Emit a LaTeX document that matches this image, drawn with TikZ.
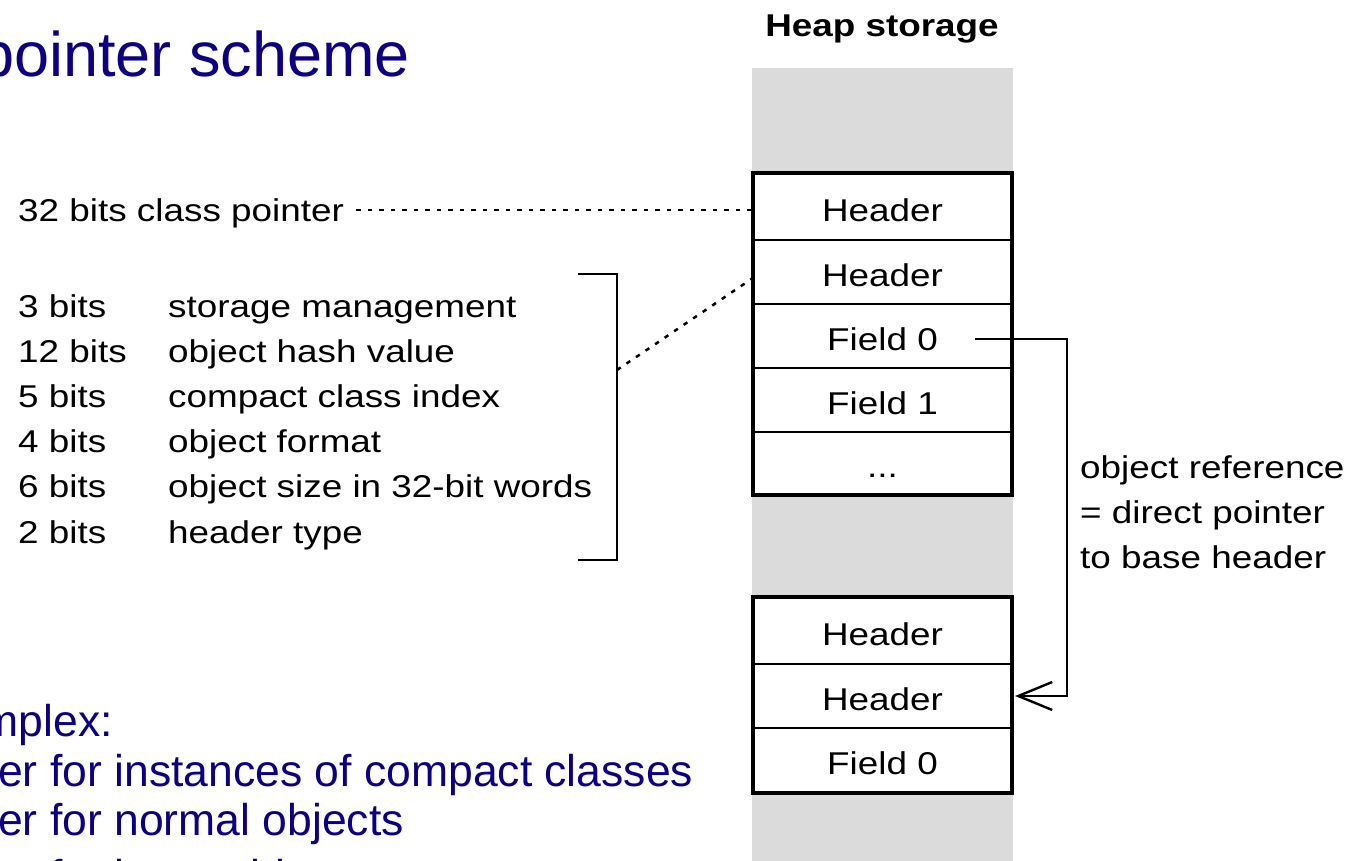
\documentclass[tikz,border=0pt]{standalone}
\usepackage{fontspec}
\setmainfont{Liberation Sans}
\newfontfamily\diagfont[FakeStretch=1.17]{Liberation Sans}
\usetikzlibrary{arrows.meta}
\definecolor{slideblue}{RGB}{12,0,128}
\definecolor{heapgray}{RGB}{219,219,219}

\begin{document}
\begin{tikzpicture}[x=1pt,y=-1pt,
  dtext/.style={font=\diagfont\fontsize{31.5}{36}\selectfont, inner sep=0pt},
  btext/.style={font=\fontsize{44.5}{50}\selectfont, text=slideblue, inner sep=0pt, anchor=base west},
  cell/.style={dtext, draw, fill=white, line width=2.2pt, minimum width=257pt, text height=29pt, text depth=0pt},
  frame/.style={line width=3.5pt},
  dotline/.style={line width=2.5pt, dash pattern=on 4.5pt off 7pt},
  bracket/.style={line width=2.8pt},
  refline/.style={line width=2.4pt},
]
\useasboundingbox (0,0) rectangle (1367,861);

% slide text
\node[btext, anchor=base east, font=\fontsize{63}{70}\selectfont] (title) at (410,77) {pointer scheme};
\node[btext, anchor=base east] (hdr) at (113,736) {complex:};
\node[btext] (h1) at (-2,786) {er for instances of compact classes};
\node[btext] (h2) at (-2,835) {er for normal objects};
\node[btext] (h3) at (-2,891) {er for large objects};

% heap column
\node[dtext, font=\diagfont\bfseries\fontsize{31.5}{36}\selectfont, anchor=base] (heap) at (882,37) {Heap storage};
\fill[heapgray] (752,68) rectangle (1013,861);

% first object
\node[cell, minimum height=66pt] (u1) at (882.5,207) {Header};
\node[cell, minimum height=64pt] (u2) at (882.5,272) {Header};
\node[cell, minimum height=64pt] (u3) at (882.5,336) {Field 0};
\node[cell, minimum height=64pt] (u4) at (882.5,400) {Field 1};
\node[cell, minimum height=62pt] (u5) at (882.5,463) {...};
\draw[frame] (u1.north west) rectangle (u5.south east);

% second object
\node[cell, minimum height=66pt] (l1) at (882.5,631) {Header};
\node[cell, minimum height=64pt] (l2) at (882.5,696) {Header};
\node[cell, minimum height=64pt] (l3) at (882.5,760) {Field 0};
\draw[frame] (l1.north west) rectangle (l3.south east);

% class pointer word
\node[dtext, anchor=base west, text height=24pt, text depth=0pt] (cp) at (18,222) {32 bits class pointer};
\draw[dotline] ([xshift=12pt]cp.east) -- (cp.east -| u1.west);

% base header bit fields
\foreach \bits/\desc [count=\i] in {3 bits/storage management, 12 bits/object hash value, 5 bits/compact class index, 4 bits/object format, 6 bits/object size in 32-bit words, 2 bits/header type} {
  \node[dtext, anchor=base west] (n\i) at (18, {317+45.2*(\i-1)}) {\bits};
  \node[dtext, anchor=base west] (d\i) at (168, {317+45.2*(\i-1)}) {\desc};
}
\coordinate (bt) at (578,274);
\coordinate (bb) at (578,560);
\coordinate (brk) at (617,370);
\draw[bracket] (bt) -| (bb -| brk) -- (bb);
\draw[dotline] (brk) -- ([yshift=-6pt]u2.west);

% object reference
\coordinate (f0out) at (975,339);
\coordinate (refx) at (1067,339);
\draw[refline, -{Straight Barb[length=34pt,width=28pt,line width=2.4pt]}] (f0out) -- (refx) |- ([xshift=3pt]l2.east);
\node[dtext, anchor=base west] (ref1) at (1080,478) {object reference};
\node[dtext, anchor=base west] (ref2) at (1080,523) {= direct pointer};
\node[dtext, anchor=base west] (ref3) at (1080,568) {to base header};
\end{tikzpicture}
\end{document}
